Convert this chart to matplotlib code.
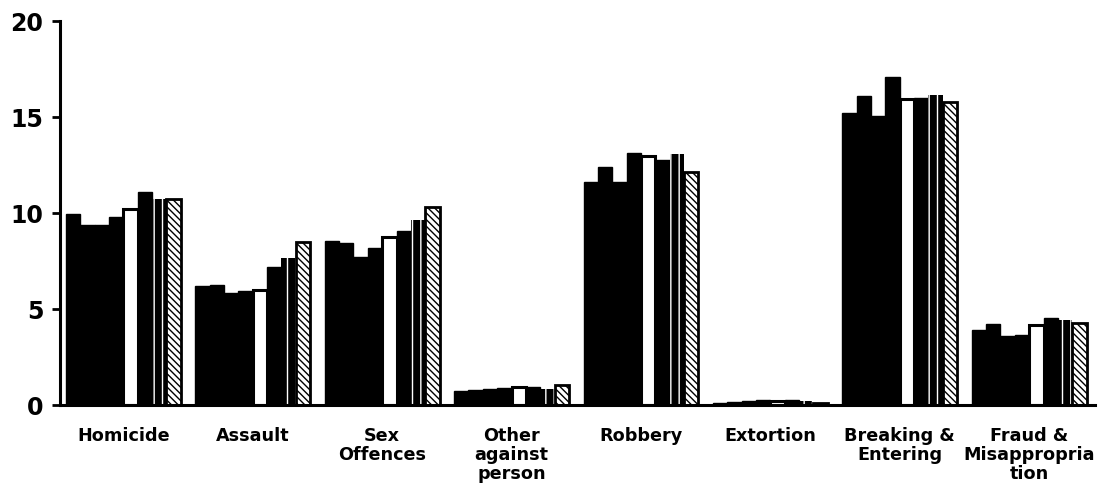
"""
Offences by type - grouped bars, eight periods per category
"""
import matplotlib.pyplot as plt
import numpy as np

categories = ["Homicide", "Assault", "Sex\nOffences", "Other\nagainst\nperson",
              "Robbery", "Extortion", "Breaking &\nEntering", "Fraud &\nMisappropria\ntion"]

# one list per category, eight bars each (left to right)
homicide = [9.95, 9.4, 9.4, 9.8, 10.2, 11.1, 10.75, 10.75]
assault = [6.2, 6.25, 5.85, 5.95, 6.0, 7.2, 7.65, 8.5]
sex_offences = [8.55, 8.45, 7.7, 8.2, 8.75, 9.05, 9.65, 10.3]
other_person = [0.72, 0.78, 0.85, 0.9, 0.95, 0.95, 0.85, 1.05]
robbery = [11.6, 12.4, 11.6, 13.15, 12.95, 12.75, 13.1, 12.15]
extortion = [0.12, 0.15, 0.2, 0.25, 0.2, 0.25, 0.22, 0.12]
breaking = [15.2, 16.1, 15.05, 17.1, 15.95, 16.0, 16.15, 15.8]
fraud = [3.9, 4.2, 3.6, 3.65, 4.15, 4.55, 4.45, 4.25]

values = np.array([homicide, assault, sex_offences, other_person,
                   robbery, extortion, breaking, fraud])

fig = plt.figure(figsize=(11.04, 4.92), dpi=100)
ax = fig.add_axes([0.0543, 0.1768, 0.9377, 0.7802])

n_groups, n_bars = values.shape
bw = 0.111
x = np.arange(n_groups)
offsets = (np.arange(n_bars) - (n_bars - 1) / 2) * bw

for k in range(n_bars):
    xs = x + offsets[k]
    ys = values[:, k]
    if k == 4:
        ax.bar(xs, ys, bw, facecolor='white', edgecolor='black', linewidth=2.2)
    elif k == 6:
        ax.bar(xs, ys, bw, facecolor='black', edgecolor='white', hatch='||', linewidth=0)
    elif k == 7:
        ax.bar(xs, ys, bw, facecolor='white', edgecolor='black', hatch='\\\\\\\\\\', linewidth=2.0)
    else:
        ax.bar(xs, ys, bw, facecolor='black', edgecolor='black', linewidth=1.0)

ax.set_xlim(-0.49, 7.51)
ax.set_ylim(0, 20)
ax.set_yticks([0, 5, 10, 15, 20])
ax.set_xticks(x)
ax.set_xticklabels(categories, fontsize=12.7, fontweight='bold', linespacing=1.07)
for lab in ax.get_yticklabels():
    lab.set_fontsize(17)
    lab.set_fontweight('bold')

ax.spines['top'].set_visible(False)
ax.spines['right'].set_visible(False)
ax.spines['left'].set_linewidth(2.2)
ax.spines['bottom'].set_linewidth(2.2)
ax.tick_params(axis='x', length=0, pad=16)
ax.tick_params(axis='y', length=6, width=2, pad=6)

plt.savefig('out.png', dpi=100, facecolor='white')
plt.close()
